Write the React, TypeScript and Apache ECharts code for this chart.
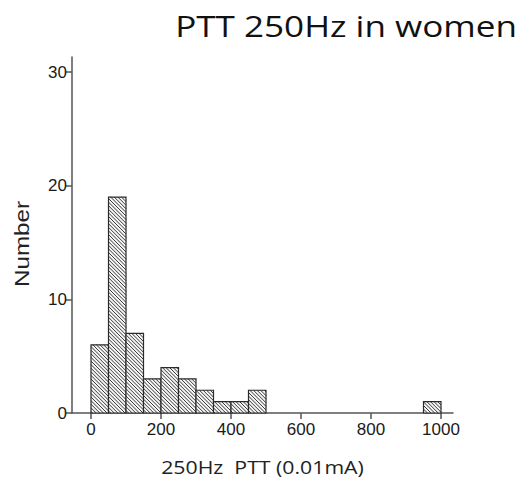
import React, { useEffect, useRef } from "react";
import * as echarts from "echarts";

const binStarts = [0, 50, 100, 150, 200, 250, 300, 350, 400, 450, 950];
const binWidth = 50;
const counts = [6, 19, 7, 3, 4, 3, 2, 1, 1, 2, 1];
const xTicks = [0, 200, 400, 600, 800, 1000];
const yTicks = [0, 10, 20, 30];
const titleText = "PTT 250Hz in women";
const xName = "250Hz  PTT (0.01mA)";
const yName = "Number";

export default function App() {
  const ref = useRef<HTMLDivElement>(null);
  useEffect(() => {
    if (!ref.current) return;
    const chart = echarts.init(ref.current, undefined, { renderer: "svg" });
    const data = binStarts.map((s, i) => [s, s + binWidth, counts[i]]);
    const axisColor = "#555";
    const labelFont = "'Liberation Sans', Arial, sans-serif";
    chart.setOption({
      animation: false,
      backgroundColor: "#fff",
      graphic: [
        {
          type: "text",
          x: 517,
          y: 26,
          scaleX: 1.17,
          style: {
            text: titleText,
            fontFamily: "'Open Sans', sans-serif",
            fontSize: 30,
            fill: "#111",
            textAlign: "right",
            textVerticalAlign: "middle",
          },
        },
        {
          type: "text",
          x: 262.5,
          y: 466,
          scaleX: 1.12,
          style: {
            text: xName,
            fontFamily: "'Open Sans', sans-serif",
            fontSize: 19,
            fill: "#222",
            textAlign: "center",
            textVerticalAlign: "middle",
          },
        },
        {
          type: "text",
          x: 22,
          y: 244,
          rotation: Math.PI / 2,
          scaleX: 1.15,
          style: {
            text: yName,
            fontFamily: labelFont,
            fontSize: 21,
            fill: "#222",
            textAlign: "center",
            textVerticalAlign: "middle",
          },
        },
      ],
      grid: { left: 72, right: 69, top: 57, bottom: 68 },
      xAxis: {
        type: "value",
        min: -54.3,
        max: 1034.3,
        splitLine: { show: false },
        axisLine: { onZero: false, lineStyle: { color: axisColor, width: 1.5 } },
        axisTick: { customValues: xTicks, length: 6, lineStyle: { color: axisColor, width: 1.5 } },
        axisLabel: {
          customValues: xTicks,
          formatter: (v: number) => String(v),
          fontFamily: labelFont,
          fontSize: 17,
          color: "#1a1a1a",
          margin: 8,
        },
      },
      yAxis: {
        type: "value",
        min: 0,
        max: 31.32,
        splitLine: { show: false },
        axisLine: { show: true, onZero: false, lineStyle: { color: axisColor, width: 1.5 } },
        axisTick: { show: true, customValues: yTicks, length: 6, lineStyle: { color: axisColor, width: 1.5 } },
        axisLabel: {
          customValues: yTicks,
          formatter: (v: number) => String(v),
          fontFamily: labelFont,
          fontSize: 17,
          color: "#1a1a1a",
          margin: 5,
        },
      },
      series: [
        {
          type: "custom",
          data,
          encode: { x: [0, 1], y: 2 },
          renderItem: (params: any, api: any) => {
            const p0 = api.coord([api.value(0), 0]);
            const p1 = api.coord([api.value(1), api.value(2)]);
            const x0 = p0[0];
            const x1 = p1[0];
            const yTop = p1[1];
            const yBot = p0[1];
            const children: any[] = [
              {
                type: "rect",
                shape: { x: x0, y: yTop, width: x1 - x0, height: yBot - yTop },
                style: { fill: "#f4f4f4", stroke: null },
              },
            ];
            const step = 3.6;
            const cMin = yTop - x1;
            const cMax = yBot - x0;
            const kStart = Math.ceil(cMin / step);
            const kEnd = Math.floor(cMax / step);
            for (let k = kStart; k <= kEnd; k++) {
              const c = k * step;
              const xa = Math.max(x0, yTop - c);
              const xb = Math.min(x1, yBot - c);
              if (xb > xa) {
                children.push({
                  type: "line",
                  shape: { x1: xa, y1: xa + c, x2: xb, y2: xb + c },
                  style: { stroke: "#3a3a3a", lineWidth: 1 },
                });
              }
            }
            children.push({
              type: "rect",
              shape: { x: x0, y: yTop, width: x1 - x0, height: yBot - yTop },
              style: { fill: "none", stroke: "#2a2a2a", lineWidth: 1.2 },
            });
            return { type: "group", children };
          },
        },
      ],
    });
    return () => chart.dispose();
  }, []);
  return <div ref={ref} style={{ width: 522, height: 481, position: "absolute", left: 0, top: 0 }} />;
}
